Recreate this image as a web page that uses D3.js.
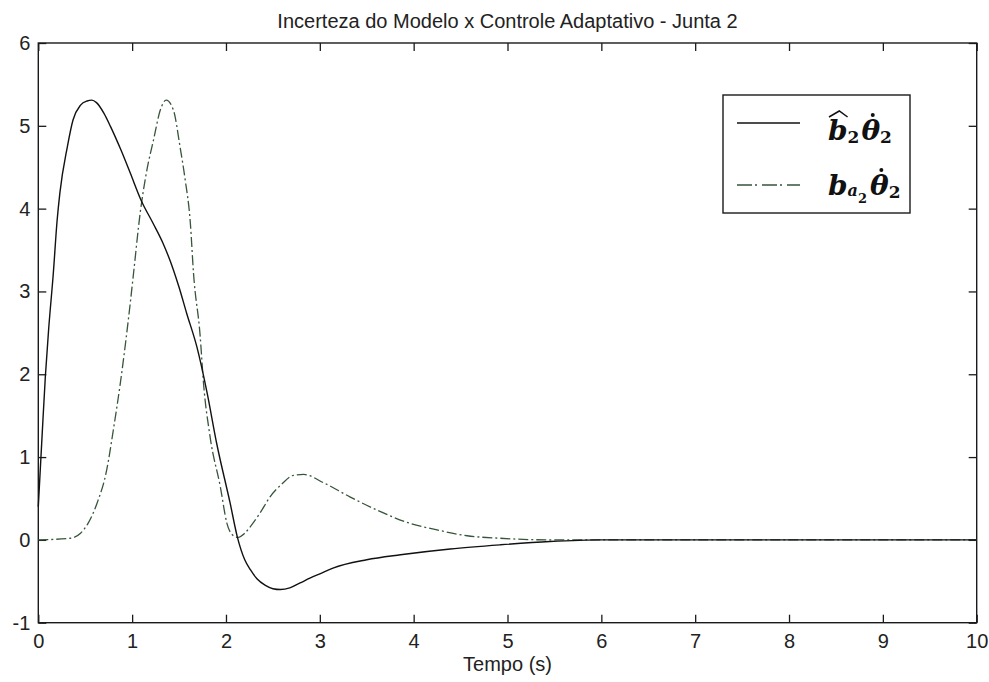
<!DOCTYPE html>
<html>
<head>
<meta charset="utf-8">
<script src="https://cdn.jsdelivr.net/npm/d3@7"></script>
<style>
  body { margin: 0; background: #fff; }
  svg { display: block; }
</style>
</head>
<body>
<svg id="chart" width="989" height="682"></svg>
<script>
// ---- data ----
const titleText = "Incerteza do Modelo x Controle Adaptativo - Junta 2";
const xLabelText = "Tempo (s)";
const xTicks = [0, 1, 2, 3, 4, 5, 6, 7, 8, 9, 10];
const yTicks = [-1, 0, 1, 2, 3, 4, 5, 6];

// estimated term  b^2 * dtheta2
const estTime = [0.00, 0.04, 0.075, 0.11, 0.16, 0.20, 0.23, 0.31, 0.37, 0.45, 0.52, 0.57, 0.62, 0.70, 0.77, 0.88, 0.98,
                 1.10, 1.22, 1.33, 1.44, 1.50, 1.58, 1.69, 1.80, 1.90, 2.045, 2.12, 2.20, 2.26, 2.33, 2.42, 2.50,
                 2.58, 2.68, 2.79, 2.90, 3.00, 3.14, 3.50, 3.86, 4.39, 4.92, 5.45, 6.00, 7.00, 8.00, 9.00, 10.00];
const estValues = [0.40, 1.25, 1.97, 2.54, 3.22, 3.85, 4.19, 4.75, 5.07, 5.25, 5.30, 5.31, 5.28, 5.15, 4.99, 4.71, 4.43,
                   4.09, 3.83, 3.58, 3.26, 3.05, 2.74, 2.33, 1.77, 1.17, 0.44, 0.04, -0.24, -0.36, -0.47, -0.55, -0.59,
                   -0.60, -0.58, -0.52, -0.46, -0.41, -0.34, -0.24, -0.18, -0.11, -0.06, -0.02, 0.00, 0.00, 0.00, 0.00, 0.00];

// actual term  b_a2 * dtheta2
const actTime = [0.00, 0.34, 0.45, 0.53, 0.625, 0.73, 0.80, 0.875, 0.93, 0.98, 1.015, 1.086, 1.158, 1.228, 1.30,
                 1.363, 1.44, 1.51, 1.565, 1.62, 1.654, 1.725, 1.76, 1.83, 1.94, 2.01, 2.08, 2.13, 2.20, 2.26,
                 2.36, 2.47, 2.60, 2.72, 2.83, 3.04, 3.32, 3.61, 3.96, 4.25, 4.57, 4.92, 5.45, 6.00, 7.00,
                 8.00, 9.00, 10.00];
const actValues = [0.00, 0.02, 0.08, 0.20, 0.44, 0.85, 1.33, 1.90, 2.38, 2.86, 3.22, 3.95, 4.47, 4.83, 5.19,
                   5.31, 5.19, 4.75, 4.35, 3.83, 3.22, 2.46, 1.90, 1.25, 0.64, 0.20, 0.05, 0.03, 0.08, 0.16,
                   0.32, 0.52, 0.68, 0.78, 0.79, 0.69, 0.52, 0.36, 0.20, 0.12, 0.05, 0.02, 0.00, 0.00, 0.00,
                   0.00, 0.00, 0.00];

// ---- layout ----
const svg = d3.select("#chart");
const plotLeft = 38.3, plotRight = 976.7, plotTop = 43, plotBottom = 622.7;
const x = d3.scaleLinear().domain([0, 10]).range([plotLeft, plotRight]);
const y = d3.scaleLinear().domain([-1, 6]).range([plotBottom, plotTop]);
const tickFont = "'Liberation Sans', Arial, sans-serif";
const axisColor = "#1a1a1a";
const plainNumber = d => String(d);

function styleAxis(g, showLabels) {
  g.select(".domain").remove();
  g.selectAll(".tick line").attr("stroke", axisColor).attr("stroke-width", 1.3);
  g.selectAll(".tick text")
    .attr("fill", "#222")
    .attr("font-family", tickFont)
    .attr("font-size", 20)
    .style("display", showLabels ? null : "none");
}

svg.append("g")
  .attr("transform", `translate(0,${plotBottom})`)
  .call(d3.axisBottom(x).tickValues(xTicks).tickSize(-8).tickPadding(11).tickFormat(plainNumber))
  .call(g => styleAxis(g, true));
svg.append("g")
  .attr("transform", `translate(0,${plotTop})`)
  .call(d3.axisTop(x).tickValues(xTicks).tickSize(-8))
  .call(g => styleAxis(g, false));
svg.append("g")
  .attr("transform", `translate(${plotLeft},0)`)
  .call(d3.axisLeft(y).tickValues(yTicks).tickSize(-8).tickPadding(8).tickFormat(plainNumber))
  .call(g => styleAxis(g, true));
svg.append("g")
  .attr("transform", `translate(${plotRight},0)`)
  .call(d3.axisRight(y).tickValues(yTicks).tickSize(-8))
  .call(g => styleAxis(g, false));

// plot frame
svg.append("rect")
  .attr("x", plotLeft).attr("y", plotTop)
  .attr("width", plotRight - plotLeft).attr("height", plotBottom - plotTop)
  .attr("fill", "none").attr("stroke", axisColor).attr("stroke-width", 1.4);

// ---- curves ----
const line = d3.line()
  .x(d => x(d[0]))
  .y(d => y(d[1]))
  .curve(d3.curveMonotoneX);

const estPts = estTime.map((t, i) => [t, estValues[i]]);
const actPts = actTime.map((t, i) => [t, actValues[i]]);
const dashDot = "10,3,2,3";
const actColor = "#36553a";

svg.append("path")
  .attr("d", line(actPts))
  .attr("fill", "none")
  .attr("stroke", actColor)
  .attr("stroke-width", 1.3)
  .attr("stroke-dasharray", dashDot);

svg.append("path")
  .attr("d", line(estPts))
  .attr("fill", "none")
  .attr("stroke", "#111")
  .attr("stroke-width", 1.4);

// ---- title and axis label ----
svg.append("text")
  .attr("x", (plotLeft + plotRight) / 2).attr("y", 28)
  .attr("text-anchor", "middle")
  .attr("font-family", tickFont).attr("font-size", 20)
  .attr("fill", "#222")
  .text(titleText);

svg.append("text")
  .attr("x", (plotLeft + plotRight) / 2).attr("y", 671)
  .attr("text-anchor", "middle")
  .attr("font-family", tickFont).attr("font-size", 20)
  .attr("fill", "#222")
  .text(xLabelText);

// ---- legend ----
const legend = svg.append("g");
legend.append("rect")
  .attr("x", 723).attr("y", 95).attr("width", 187).attr("height", 118)
  .attr("fill", "#fff").attr("stroke", axisColor).attr("stroke-width", 1.4);

legend.append("line")
  .attr("x1", 737).attr("x2", 800).attr("y1", 123).attr("y2", 123)
  .attr("stroke", "#111").attr("stroke-width", 1.4);
legend.append("line")
  .attr("x1", 737).attr("x2", 800).attr("y1", 185).attr("y2", 185)
  .attr("stroke", actColor).attr("stroke-width", 1.3)
  .attr("stroke-dasharray", "15,3,2,5");

const mathFont = "'DejaVu Serif', 'Liberation Serif', serif";

// b-hat_2 theta-dot_2
const t1 = legend.append("text")
  .attr("x", 828).attr("y", 140)
  .attr("font-family", mathFont).attr("font-weight", "bold").attr("fill", "#111");
t1.append("tspan").attr("font-style", "italic").attr("font-size", 28).text("b");
t1.append("tspan").attr("font-size", 17).attr("dy", 3).text("2");
t1.append("tspan").attr("font-style", "italic").attr("font-size", 28).attr("dy", -3).attr("dx", 2).text("θ");
t1.append("tspan").attr("font-size", 17).attr("dy", 3).text("2");

// b_{a_2} theta-dot_2
const t2 = legend.append("text")
  .attr("x", 828).attr("y", 195)
  .attr("font-family", mathFont).attr("font-weight", "bold").attr("fill", "#111");
t2.append("tspan").attr("font-style", "italic").attr("font-size", 28).text("b");
t2.append("tspan").attr("font-style", "italic").attr("font-size", 16).attr("dy", 1).text("a");
t2.append("tspan").attr("font-size", 13).attr("dy", 7).text("2");
t2.append("tspan").attr("font-style", "italic").attr("font-size", 28).attr("dy", -8).attr("dx", 3).text("θ");
t2.append("tspan").attr("font-size", 17).attr("dy", 3).text("2");

// accents: wide hat over b, dot over theta (placed from each glyph's baseline)
function charStart(textSel, idx) {
  return textSel.node().getStartPositionOfChar(idx);
}
function charWidth(textSel, idx) {
  return textSel.node().getExtentOfChar(idx).width;
}
const bStart = charStart(t1, 0), bW = charWidth(t1, 0);
legend.append("path")
  .attr("d", `M${bStart.x + 1},${bStart.y - 23} L${bStart.x + bW / 2 + 1.5},${bStart.y - 29} L${bStart.x + bW},${bStart.y - 23}`)
  .attr("fill", "none").attr("stroke", "#111").attr("stroke-width", 1.5);

[[t1, 2], [t2, 3]].forEach(([sel, idx]) => {
  const p = charStart(sel, idx), w = charWidth(sel, idx);
  legend.append("circle")
    .attr("cx", p.x + w / 2 + 2).attr("cy", p.y - 25)
    .attr("r", 2).attr("fill", "#111");
});
</script>
</body>
</html>
